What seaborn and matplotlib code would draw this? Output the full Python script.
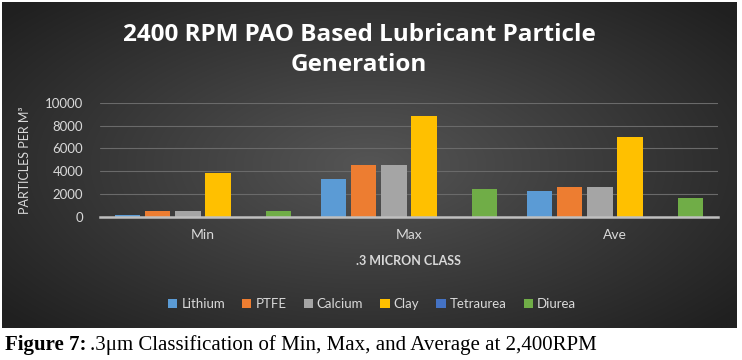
import numpy as np
import pandas as pd
import matplotlib
matplotlib.use("Agg")
import matplotlib.pyplot as plt
import seaborn as sns

categories = ["Min", "Max", "Ave"]
series = ["Lithium", "PTFE", "Calcium", "Clay", "Tetraurea", "Diurea"]
lithium = [150, 3300, 2250]
ptfe = [500, 4550, 2650]
calcium = [500, 4550, 2650]
clay = [3850, 8850, 7000]
tetraurea = [0, 0, 0]
diurea = [500, 2450, 1650]
yticks = [0, 2000, 4000, 6000, 8000, 10000]
colors = ["#5B9BD5", "#ED7D31", "#A5A5A5", "#FFC000", "#4472C4", "#70AD47"]

values = [lithium, ptfe, calcium, clay, tetraurea, diurea]
rows = []
for s, vals in zip(series, values):
    for c, v in zip(categories, vals):
        rows.append({"Class": c, "Series": s, "Value": v})
df = pd.DataFrame(rows)

sns.set_theme(style="white")
plt.rcParams["font.family"] = ["Lato", "DejaVu Sans"]

W, H = 742, 360
fig = plt.figure(figsize=(W / 100, H / 100), dpi=100, facecolor="white")

# background gradient panel
bx0, bx1, by0, by1 = 2, 737, 2, 328
bg = fig.add_axes([bx0 / W, 1 - by1 / H, (bx1 - bx0) / W, (by1 - by0) / H])
nx, ny = 400, 200
xx, yy = np.meshgrid(np.linspace(-1, 1, nx), np.linspace(-1, 1, ny))
r = np.sqrt((xx * 1.0) ** 2 + (yy * 0.9) ** 2)
r = np.clip(r / 1.3, 0, 1)
c0 = np.array([0x55, 0x55, 0x55]) / 255
c1 = np.array([0x20, 0x20, 0x20]) / 255
img = c0[None, None, :] * (1 - r[..., None]) + c1[None, None, :] * r[..., None]
bg.imshow(img, aspect="auto", extent=[0, 1, 0, 1], interpolation="bilinear")
bg.set_axis_off()

# plot axes
px0, px1, py_top, py_bot = 100, 718, 103, 216.7
ax = fig.add_axes([px0 / W, 1 - py_bot / H, (px1 - px0) / W, (py_bot - py_top) / H])
ax.set_facecolor("none")
sns.barplot(data=df, x="Class", y="Value", hue="Series", hue_order=series,
            order=categories, palette=colors, width=0.88, gap=0.16,
            saturation=1, ax=ax, errorbar=None, edgecolor="none")
ax.set_ylim(0, 10000)
ax.set_xlim(-0.5, 2.5)
ax.set_yticks(yticks)
ax.set_yticklabels([str(t) for t in yticks], color="#d9d9d9", fontsize=9.5)
ax.tick_params(axis="y", length=0, pad=12)
ax.tick_params(axis="x", length=0, pad=9, labelsize=10, labelcolor="#d9d9d9")
ax.yaxis.grid(True, color="#6a6a6a", linewidth=0.8)
ax.set_axisbelow(True)
for side in ["top", "right", "left"]:
    ax.spines[side].set_visible(False)
ax.spines["bottom"].set_color("#bfbfbf")
ax.spines["bottom"].set_linewidth(1.8)
ax.set_xlabel(".3 MICRON CLASS", color="#d9d9d9", fontsize=9, fontweight="bold", labelpad=10)
ax.set_ylabel("PARTICLES PER M³", color="#d9d9d9", fontsize=9, labelpad=10)
handles, labels = ax.get_legend_handles_labels()
ax.get_legend().remove()

fig.text(359 / W, 1 - 35 / H, "2400 RPM PAO Based Lubricant Particle", ha="center", va="center",
         color="white", fontsize=17.5, fontweight="bold", family="Open Sans")
fig.text(359 / W, 1 - 65 / H, "Generation", ha="center", va="center",
         color="white", fontsize=17.5, fontweight="bold", family="Open Sans")

fig.legend(handles, labels, loc="center", bbox_to_anchor=(372 / W, 1 - 304 / H), ncol=6,
           frameon=False, fontsize=9.5, labelcolor="#d9d9d9", handlelength=0.7, handleheight=0.7,
           handletextpad=0.3, columnspacing=1.3)

fig.canvas.draw()
renderer = fig.canvas.get_renderer()
t1 = fig.text(5 / W, 1 - 345 / H, "Figure 7:", ha="left", va="center", color="black",
              fontsize=15, fontweight="bold", family="Liberation Serif")
bb = t1.get_window_extent(renderer=renderer)
fig.text((bb.x1 + 4) / W, 1 - 345 / H, ".3μm Classification of Min, Max, and Average at 2,400RPM",
         ha="left", va="center", color="black", fontsize=15, family="Liberation Serif")

fig.savefig("out.png", dpi=100, facecolor="white")
